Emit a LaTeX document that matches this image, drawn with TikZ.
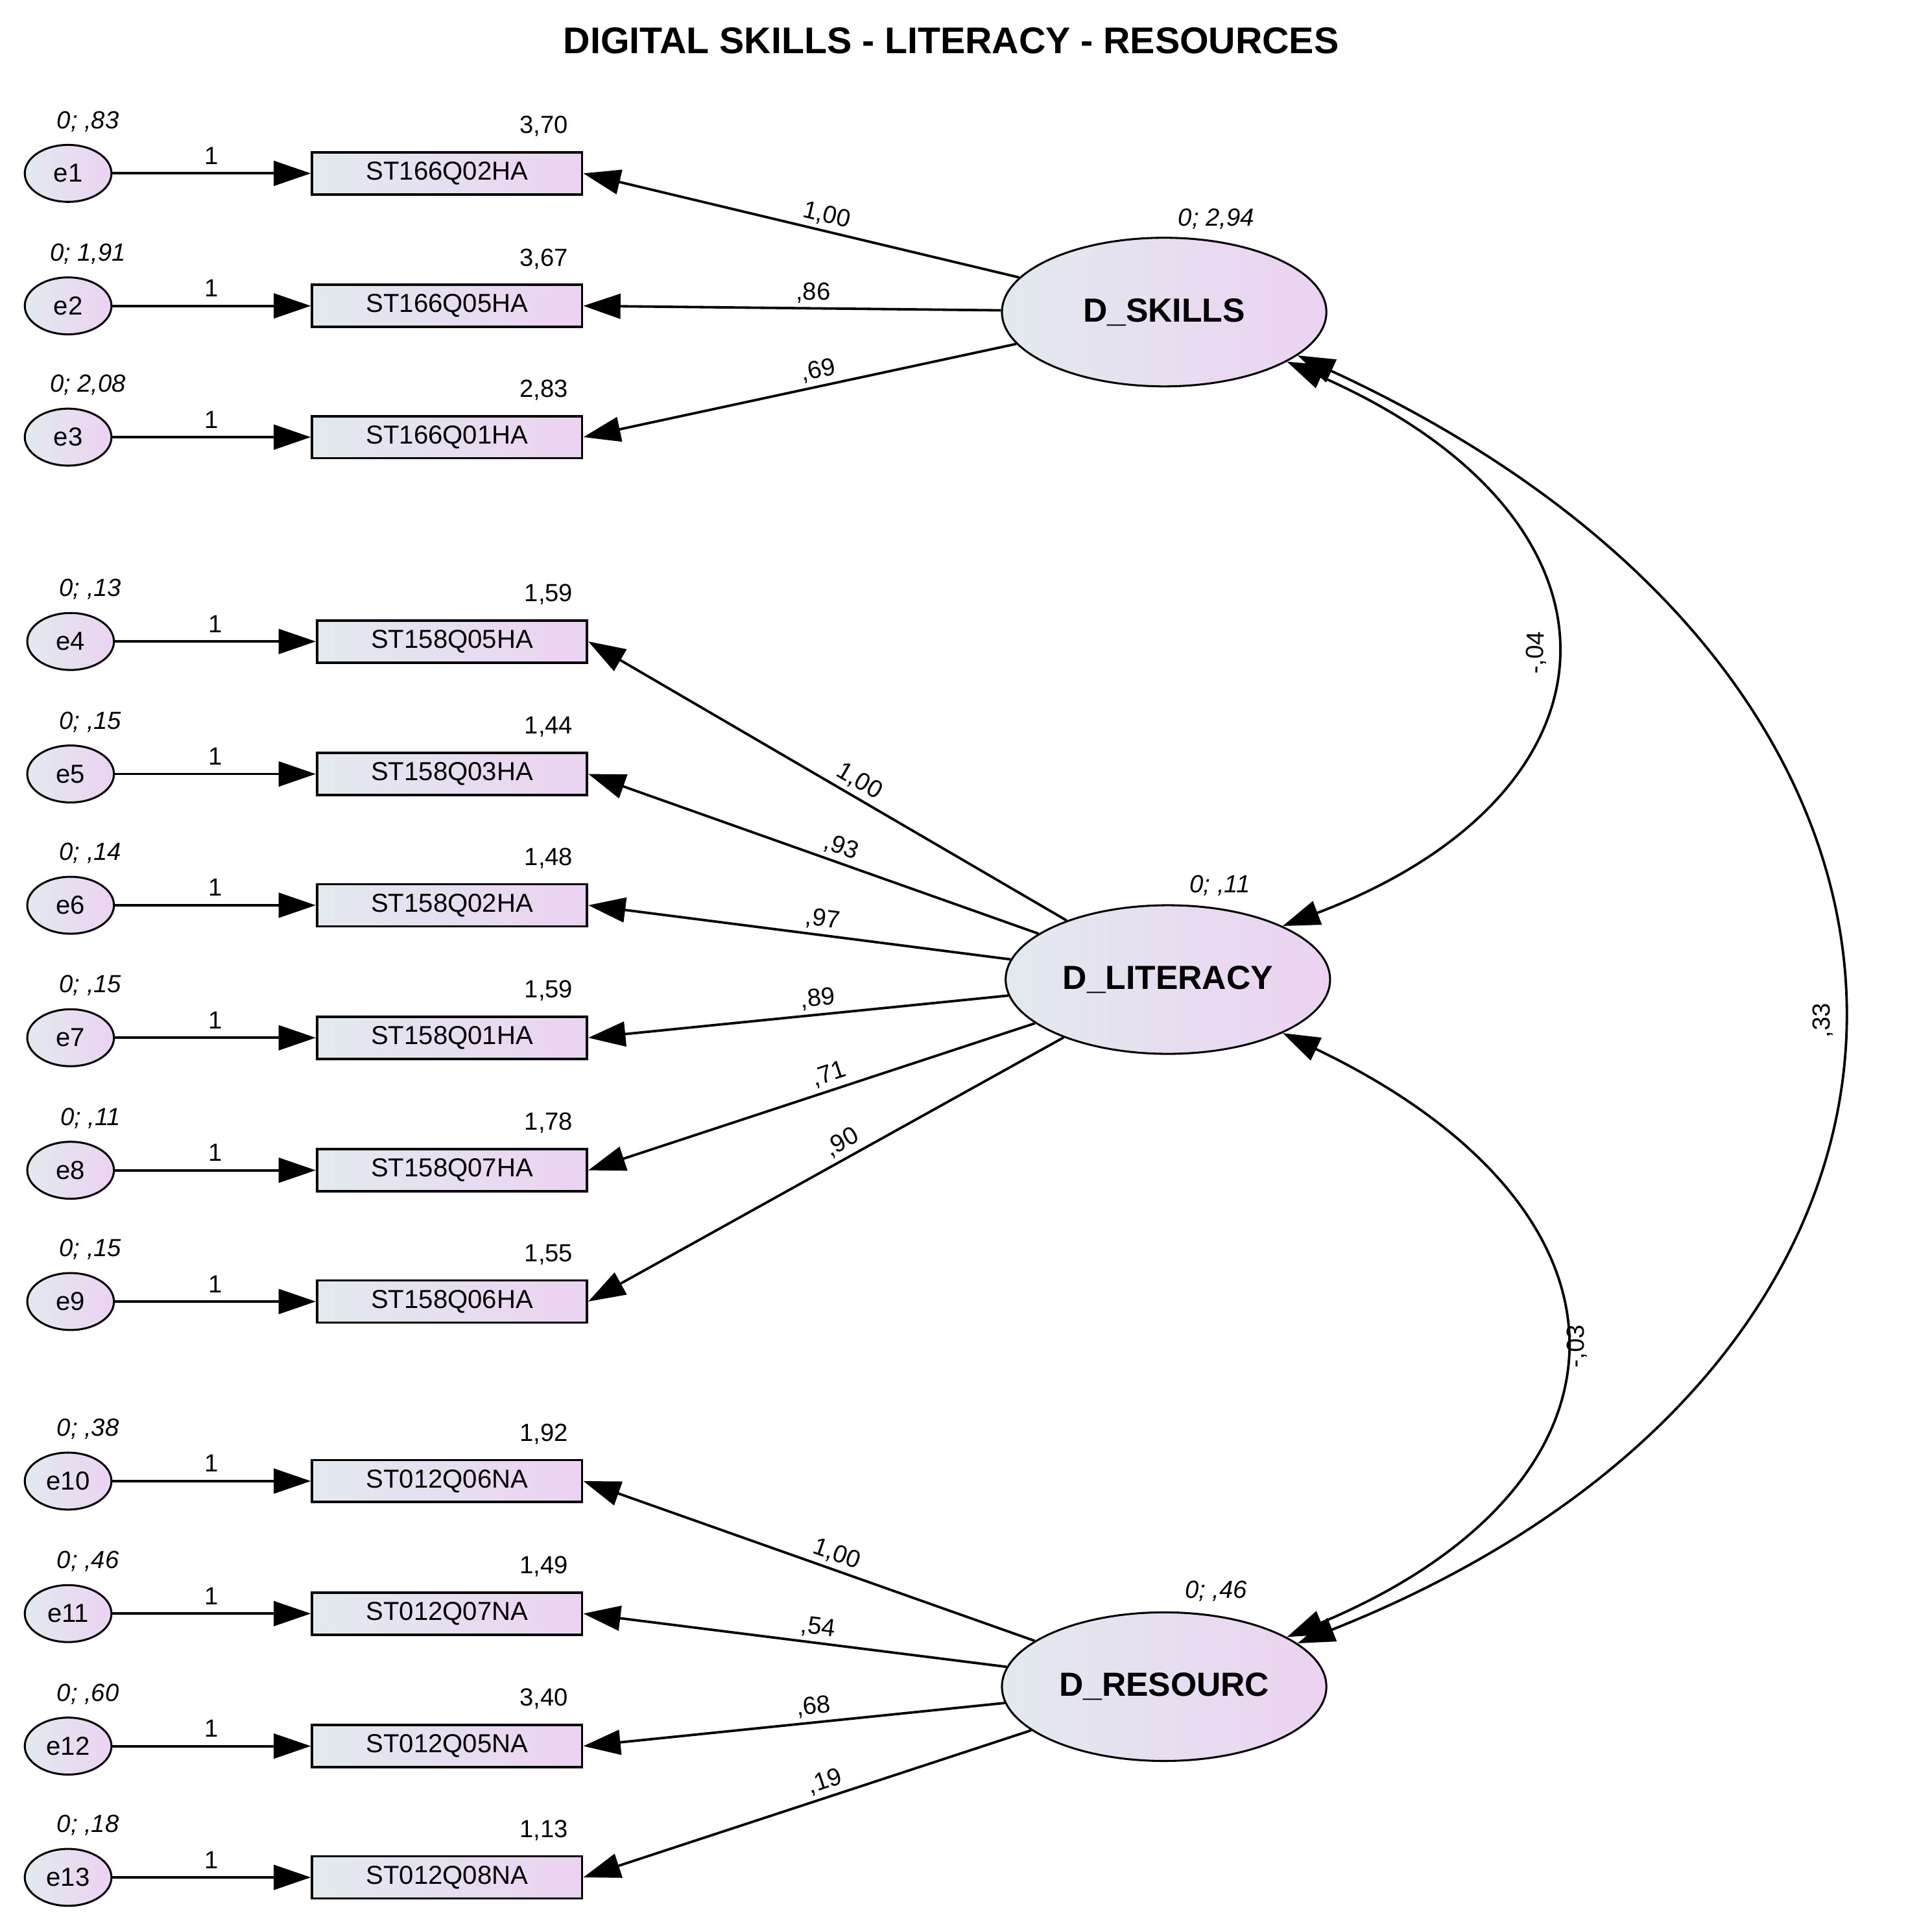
\documentclass[tikz,border=0pt]{standalone}
\usepackage{fontspec}
\setmainfont{Liberation Sans}
\usetikzlibrary{arrows.meta,shapes.geometric}
\definecolor{lc}{RGB}{226,234,238}
\definecolor{rc}{RGB}{236,210,242}
\begin{document}
\begin{tikzpicture}[x=1pt,y=-1pt,
 err/.style={ellipse,draw,line width=1.6pt,minimum width=70pt,minimum height=46pt,inner sep=0pt,left color=lc,right color=rc,font=\fontsize{21}{21}\selectfont},
 box/.style={rectangle,draw,line width=2pt,minimum width=218pt,minimum height=34pt,inner sep=0pt,left color=lc,right color=rc,font=\fontsize{21}{21}\selectfont},
 lat/.style={ellipse,draw,line width=1.6pt,minimum width=262pt,minimum height=120pt,inner sep=0pt,left color=lc,right color=rc,font=\bfseries\fontsize{27}{27}\selectfont},
 arr/.style={-{Triangle[length=30pt,width=20pt]},line width=2pt},
 carr/.style={{Triangle[length=30pt,width=20pt]}-{Triangle[length=30pt,width=20pt]},line width=2pt},
 lab/.style={font=\fontsize{20}{20}\selectfont},
 var/.style={font=\itshape\fontsize{20}{20}\selectfont}]
\fill[white] (0,0) rectangle (1560,1555);
\useasboundingbox (0,0) rectangle (1560,1555);
\node[font=\bfseries\fontsize{30}{30}\selectfont] (title) at (768,33) {DIGITAL SKILLS - LITERACY - RESOURCES};

\node[lat] (S) at (940,252) {D\_SKILLS};
\node[lat] (L) at (943,791) {D\_LITERACY};
\node[lat] (R) at (940,1362) {D\_RESOURC};
\node[var] (vS) at (982,177) {0; 2,94};
\node[var] (vL) at (985,715) {0; ,11};
\node[var] (vR) at (982,1285) {0; ,46};

% indicators
\foreach \i/\ex/\bx/\y/\name/\int/\v/\lt/\load in {
 1/55/361/140/ST166Q02HA/{3,70}/{0; ,83}/S/{1,00},
 2/55/361/247/ST166Q05HA/{3,67}/{0; 1,91}/S/{,86},
 3/55/361/353/ST166Q01HA/{2,83}/{0; 2,08}/S/{,69},
 4/57/365/518/ST158Q05HA/{1,59}/{0; ,13}/L/{1,00},
 5/57/365/625/ST158Q03HA/{1,44}/{0; ,15}/L/{,93},
 6/57/365/731/ST158Q02HA/{1,48}/{0; ,14}/L/{,97},
 7/57/365/838/ST158Q01HA/{1,59}/{0; ,15}/L/{,89},
 8/57/365/945/ST158Q07HA/{1,78}/{0; ,11}/L/{,71},
 9/57/365/1051/ST158Q06HA/{1,55}/{0; ,15}/L/{,90},
 10/55/361/1196/ST012Q06NA/{1,92}/{0; ,38}/R/{1,00},
 11/55/361/1303/ST012Q07NA/{1,49}/{0; ,46}/R/{,54},
 12/55/361/1410/ST012Q05NA/{3,40}/{0; ,60}/R/{,68},
 13/55/361/1516/ST012Q08NA/{1,13}/{0; ,18}/R/{,19}}{
  \node[err] (e\i) at (\ex,\y) {e\i};
  \node[box] (b\i) at (\bx,\y) {\name};
  \node[var] (v\i) at (\ex+16,\y-42) {\v};
  \node[lab] (i\i) at (\bx+78,\y-38) {\int};
  \draw[arr] (e\i) -- node[lab,above=3pt] {1} (b\i.west);
  \draw[arr] (\lt) -- node[lab,sloped,above,pos=0.45] {\load} (b\i.east);
}

% covariances
\draw[carr] (S.-22) .. controls (1330,420) and (1320,640) .. node[lab,sloped,above] {-,04} (L.25);
\draw[carr] (L.-25) .. controls (1340,980) and (1330,1200) .. node[lab,sloped,below] {-,03} (R.22);
\draw[carr] (S.-18) .. controls (1640,560) and (1620,1100) .. node[lab,sloped,above] {,33} (R.18);
\end{tikzpicture}
\end{document}
